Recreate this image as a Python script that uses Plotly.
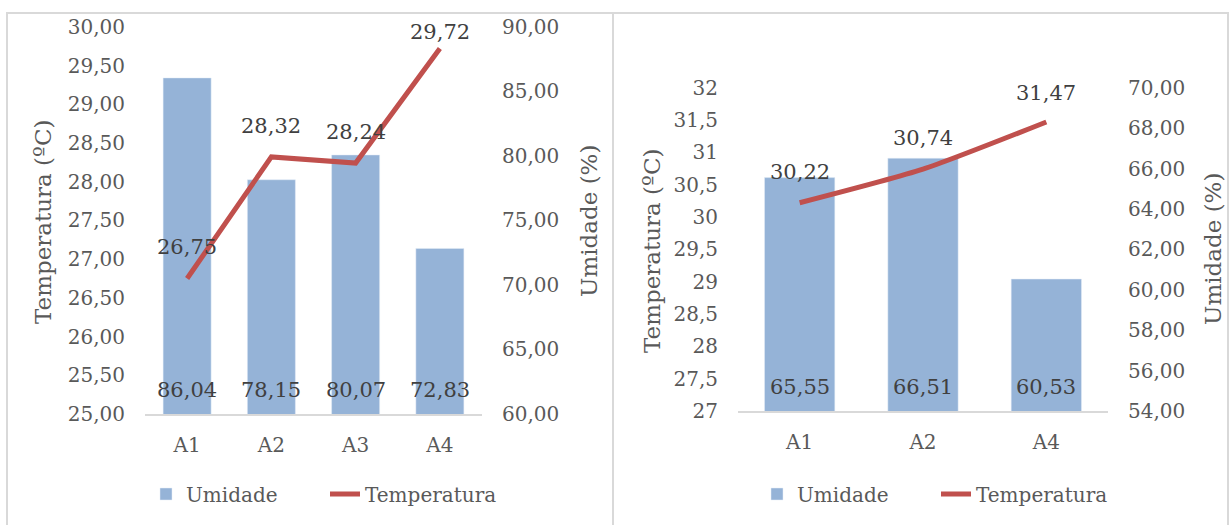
import plotly.graph_objects as go

# ---- data -------------------------------------------------------------
cats_left = ["A1", "A2", "A3", "A4"]
umid_left = [86.04, 78.15, 80.07, 72.83]
temp_left = [26.75, 28.32, 28.24, 29.72]

cats_right = ["A1", "A2", "A4"]
umid_right = [65.55, 66.51, 60.53]
temp_right = [30.22, 30.74, 31.47]

# ---- styling ----------------------------------------------------------
W, H = 1230, 525
FONT = "DejaVu Serif"
TICK_COLOR = "#595959"
LABEL_COLOR = "#404040"
BAR_COLOR = "#95B3D7"
LINE_COLOR = "#C0504D"
FRAME = "#D9D9D9"


def px_x(p):
    return p / W


def px_y(p):
    return 1 - p / H


def fmt(v):
    return f"{v:.2f}".replace(".", ",")


fig = go.Figure()

# left panel: humidity bars (primary, right side) + temperature line (overlay, left side)
fig.add_trace(go.Bar(x=cats_left, y=umid_left, name="Umidade", marker_color=BAR_COLOR,
                     width=0.57, xaxis="x", yaxis="y", legend="legend"))
fig.add_trace(go.Scatter(x=cats_left, y=temp_left, name="Temperatura", mode="lines",
                         line=dict(color=LINE_COLOR, width=5), xaxis="x", yaxis="y2",
                         legend="legend"))

# right panel
fig.add_trace(go.Bar(x=cats_right, y=umid_right, name="Umidade", marker_color=BAR_COLOR,
                     width=0.57, xaxis="x2", yaxis="y3", legend="legend2"))
fig.add_trace(go.Scatter(x=cats_right, y=temp_right, name="Temperatura", mode="lines",
                         line=dict(color=LINE_COLOR, width=5, shape="spline", smoothing=0.6),
                         xaxis="x2", yaxis="y4", legend="legend2"))

tickfont = dict(family=FONT, size=20, color=TICK_COLOR)

# panel geometry in pixels
L_X0, L_X1, L_YB, L_YT = 145, 482, 414, 26.8
R_X0, R_X1, R_YB, R_YT = 738, 1108, 411, 87.7

xcommon = dict(showgrid=False, zeroline=False, showline=True, linecolor=FRAME, linewidth=1.5,
               ticks="", tickfont=tickfont, ticklabelstandoff=12, fixedrange=True)
ycommon = dict(showgrid=False, zeroline=False, showline=False, ticks="", tickfont=tickfont,
               ticklabelstandoff=19, fixedrange=True)

L_TEMP = (25, 30)
L_UMID = (60, 90)
R_TEMP = (27, 32)
R_UMID = (54, 70)

legend_common = dict(orientation="h", xanchor="left", yanchor="middle", y=px_y(494),
                     font=dict(family=FONT, size=20, color=TICK_COLOR), itemwidth=30,
                     entrywidth=134, bgcolor="rgba(0,0,0,0)")

fig.update_layout(
    width=W, height=H, margin=dict(l=0, r=0, t=0, b=0, autoexpand=False),
    paper_bgcolor="white", plot_bgcolor="white",
    separators=",.",
    font=dict(family=FONT, color=TICK_COLOR),
    xaxis=dict(domain=[px_x(L_X0), px_x(L_X1)], anchor="y", **xcommon),
    yaxis=dict(domain=[px_y(L_YB), px_y(L_YT)], anchor="x", side="right",
               range=list(L_UMID), dtick=5, tickformat=".2f", **ycommon),
    yaxis2=dict(overlaying="y", anchor="x", side="left",
                range=list(L_TEMP), dtick=0.5, tickformat=".2f", **ycommon),
    xaxis2=dict(domain=[px_x(R_X0), px_x(R_X1)], anchor="y3", **xcommon),
    yaxis3=dict(domain=[px_y(R_YB), px_y(R_YT)], anchor="x2", side="right",
                range=list(R_UMID), dtick=2, tickformat=".2f", **ycommon),
    yaxis4=dict(overlaying="y3", anchor="x2", side="left",
                range=list(R_TEMP), dtick=0.5, **ycommon),
    legend=dict(x=px_x(146), **legend_common),
    legend2=dict(x=px_x(757), **legend_common),
    showlegend=True,
)

annotations = []


def add_labels(cats, temps, umids, xref, yref_t, yref_u, trange, urange, ybot, ytop):
    plot_h = ybot - ytop
    for c, t, u in zip(cats, temps, umids):
        # temperature value above the line point, kept inside the plot area
        pt_from_top = (trange[1] - t) / (trange[1] - trange[0]) * plot_h
        shift = 31 if pt_from_top >= 36 else pt_from_top - 5
        annotations.append(dict(x=c, y=t, xref=xref, yref=yref_t, text=fmt(t), showarrow=False,
                                yshift=shift, yanchor="middle",
                                font=dict(family=FONT, size=21, color=LABEL_COLOR)))
        # humidity value at the base of each bar
        annotations.append(dict(x=c, y=urange[0], xref=xref, yref=yref_u, text=fmt(u),
                                showarrow=False, yshift=24, yanchor="middle",
                                font=dict(family=FONT, size=21, color=LABEL_COLOR)))


add_labels(cats_left, temp_left, umid_left, "x", "y2", "y", L_TEMP, L_UMID, L_YB, L_YT)
add_labels(cats_right, temp_right, umid_right, "x2", "y4", "y3", R_TEMP, R_UMID, R_YB, R_YT)

# axis titles
title_font = dict(family=FONT, size=23, color=TICK_COLOR)
for text, x, y in [("Temperatura (ºC)", 43, 222), ("Umidade (%)", 589, 221),
                   ("Temperatura (ºC)", 652, 251), ("Umidade (%)", 1213, 249)]:
    annotations.append(dict(text=text, x=px_x(x), y=px_y(y), xref="paper", yref="paper",
                            showarrow=False, textangle=-90, xanchor="center", yanchor="middle",
                            font=title_font))

fig.update_layout(annotations=annotations)

# chart frames
frame_line = dict(color=FRAME, width=2)
shapes = [
    dict(type="line", xref="paper", yref="paper", x0=px_x(6), x1=px_x(1229), y0=px_y(13), y1=px_y(13), line=frame_line),
    dict(type="line", xref="paper", yref="paper", x0=px_x(7), x1=px_x(7), y0=px_y(12), y1=0, line=frame_line),
    dict(type="line", xref="paper", yref="paper", x0=px_x(613), x1=px_x(613), y0=px_y(12), y1=0, line=frame_line),
    dict(type="line", xref="paper", yref="paper", x0=px_x(1228), x1=px_x(1228), y0=px_y(12), y1=0, line=frame_line),
]
fig.update_layout(shapes=shapes)

fig.write_html("out.html")
